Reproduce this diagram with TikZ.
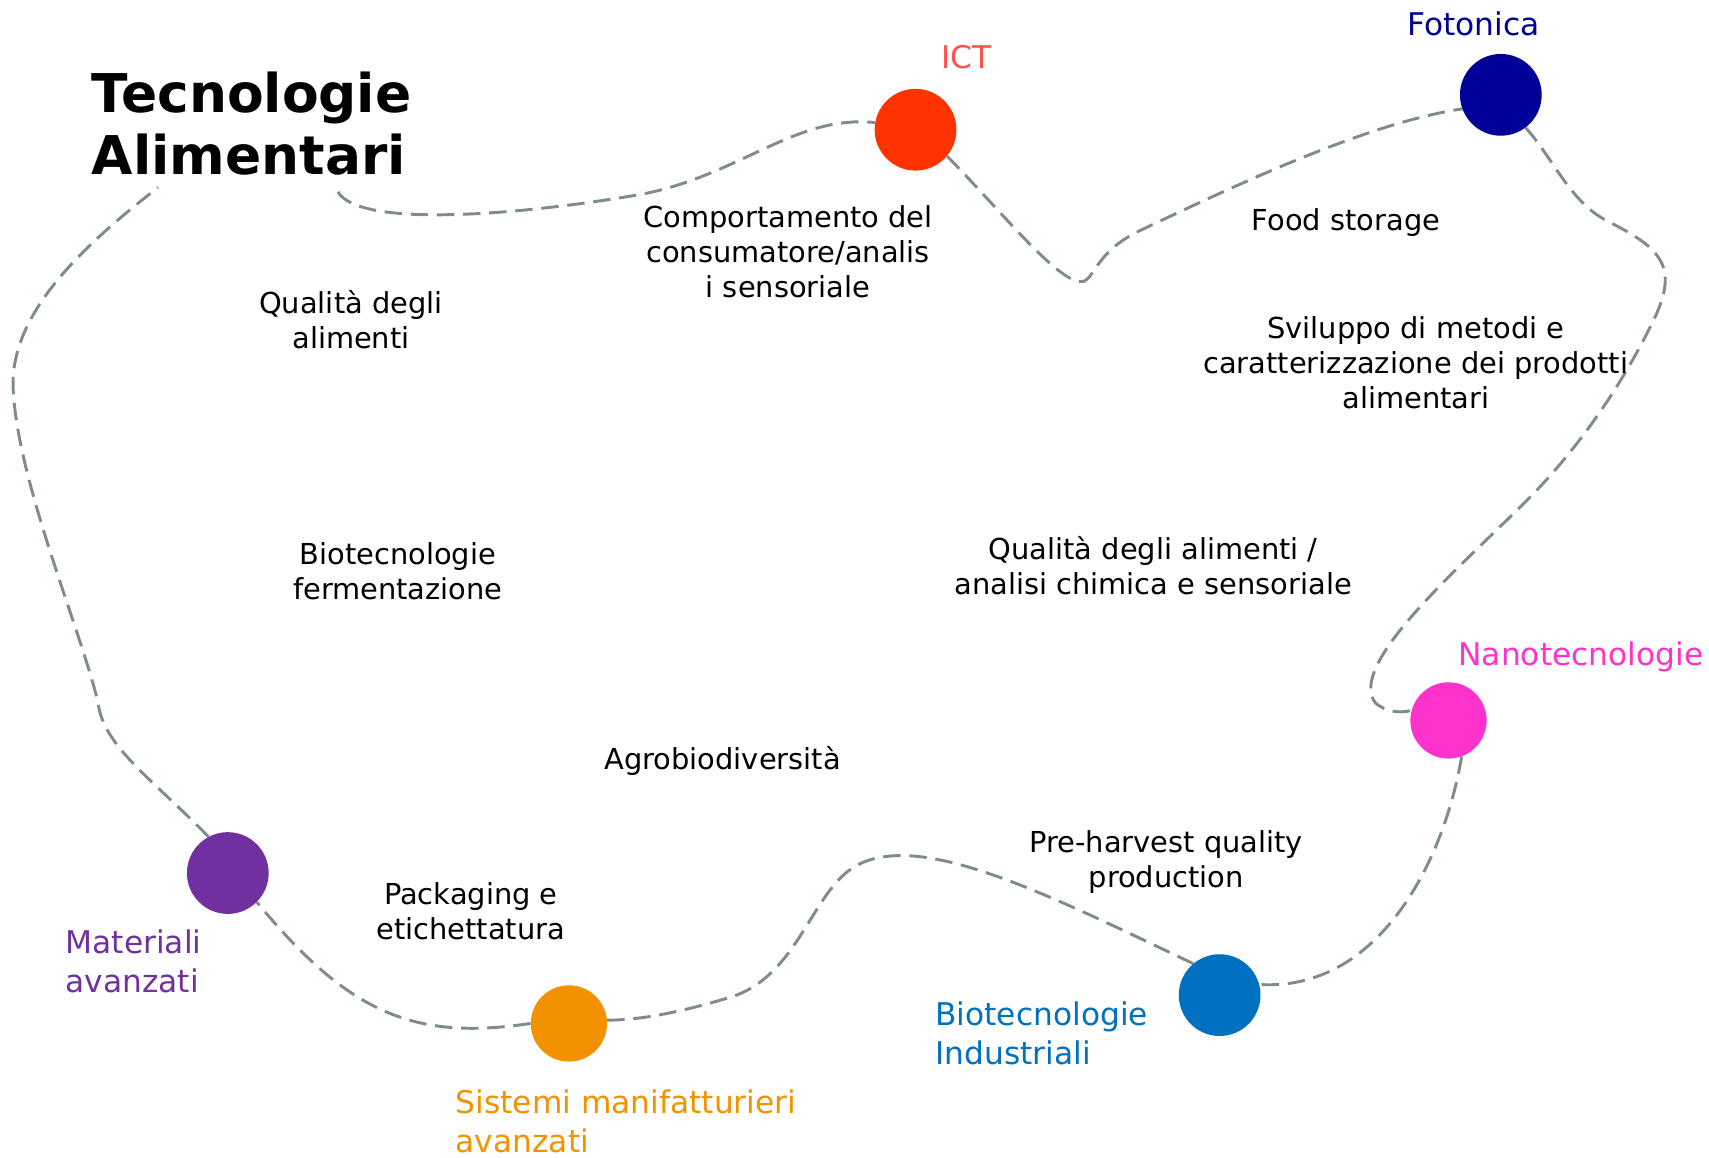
\documentclass[tikz,border=0pt]{standalone}
\usepackage{fontspec}
\setmainfont{DejaVu Sans}
\usepackage{tikz}
\pgfdeclarelayer{background}
\pgfsetlayers{background,main}
\usepackage{xcolor}
\definecolor{ictred}{RGB}{255,51,0}
\definecolor{ictlabel}{RGB}{255,80,80}
\definecolor{fotoblue}{RGB}{0,0,153}
\definecolor{nanopink}{RGB}{255,51,204}
\definecolor{bioblue}{RGB}{0,112,192}
\definecolor{sisorange}{RGB}{243,146,0}
\definecolor{matpurple}{RGB}{112,48,160}
\definecolor{trailgray}{RGB}{127,140,141}

\begin{document}
\begin{tikzpicture}[x=1pt, y=-1pt,
  every node/.style={inner sep=0pt},
  title/.style={align=left, font=\fontsize{49}{57}\selectfont\bfseries},
  topic/.style={align=center, font=\fontsize{26.5}{32}\selectfont},
  tag/.style={align=left, font=\fontsize{28.7}{36}\selectfont},
  dot/.style={circle, inner sep=0pt, minimum size=75pt},
  trail/.style={draw=trailgray, line width=2.7pt, dash pattern=on 16pt off 8pt},
]
\useasboundingbox (0,0) rectangle (1568,1062);

\node[title, anchor=north west] at (84,66) (title) {Tecnologie\\Alimentari};
\coordinate (titleL) at (145,172);
\coordinate (titleR) at (310,176);

\node[dot, fill=ictred]                      at ( 840, 119) (ict)     {};
\node[dot, fill=fotoblue]                    at (1377,  87) (foto)    {};
\node[dot, fill=nanopink, minimum size=70pt] at (1329, 661) (nano)    {};
\node[dot, fill=bioblue]                     at (1119, 913) (bioind)  {};
\node[dot, fill=sisorange, minimum size=70pt] at ( 522, 939) (sistemi) {};
\node[dot, fill=matpurple]                   at ( 209, 801) (mater)   {};

\node[tag, text=ictlabel]                at ( 887,  52) (ictlab)  {ICT};
\node[tag, text=fotoblue]                at (1352,  22) (fotolab) {Fotonica};
\node[tag, text=nanopink, anchor=west]   at (1338, 603) (nanolab) {Nanotecnologie};
\node[tag, text=bioblue, anchor=west]    at ( 858, 948) (biolab)  {Biotecnologie\\Industriali};
\node[tag, text=matpurple, anchor=west]  at (  60, 882) (matlab)  {Materiali\\avanzati};
\node[tag, text=sisorange, anchor=west]  at ( 418,1029) (sislab)  {Sistemi manifatturieri\\avanzati};

\node[topic] at ( 723, 231) (comport) {Comportamento del\\consumatore/analis\\i sensoriale};
\node[topic] at (1235, 204) (foodsto) {Food storage};
\node[topic] at (1299, 333) (svilup)  {Sviluppo di metodi e\\caratterizzazione dei prodotti\\alimentari};
\node[topic] at ( 322, 293) (qualal)  {Qualità degli\\alimenti};
\node[topic] at ( 365, 524) (biofer)  {Biotecnologie\\fermentazione};
\node[topic] at (1058, 519) (qualch)  {Qualità degli alimenti /\\analisi chimica e sensoriale};
\node[topic] at ( 663, 698) (agrobi)  {Agrobiodiversità};
\node[topic] at (1070, 791) (prehar)  {Pre-harvest quality\\production};
\node[topic] at ( 432, 836) (packag)  {Packaging e\\etichettatura};

\begin{pgfonlayer}{background}
\draw[trail] (titleR) .. controls (330,210) and (480,197) .. (590,178)
  .. controls (680,160) and (730,105) .. (ict.170);
\draw[trail] (ict.-40) .. controls (920,195) and (975,265) .. (995,258)
  .. controls (1005,252) and (1008,230) .. (1045,212)
  .. controls (1150,162) and (1260,112) .. (foto.-160);
\draw[trail] (foto.-53) .. controls (1425,145) and (1440,185) .. (1475,203)
  .. controls (1525,228) and (1540,245) .. (1518,292)
  .. controls (1490,350) and (1450,410) .. (1400,460)
  .. controls (1340,520) and (1235,610) .. (1262,645)
  .. controls (1270,652) and (1282,655) .. (nano.165);
\draw[trail] (nano.-70) .. controls (1325,790) and (1265,910) .. (bioind.15);
\draw[trail] (bioind.130) .. controls (960,820) and (850,765) .. (790,792)
  .. controls (745,812) and (735,895) .. (670,915)
  .. controls (620,930) and (585,936) .. (sistemi.5);
\draw[trail] (sistemi.180) .. controls (380,955) and (320,930) .. (mater.-45);
\draw[trail] (mater.118) .. controls (140,715) and (95,685) .. (90,645)
  .. controls (75,580) and (15,440) .. (12,355)
  .. controls (10,290) and (70,230) .. (titleL);
\end{pgfonlayer}
\end{tikzpicture}
\end{document}
